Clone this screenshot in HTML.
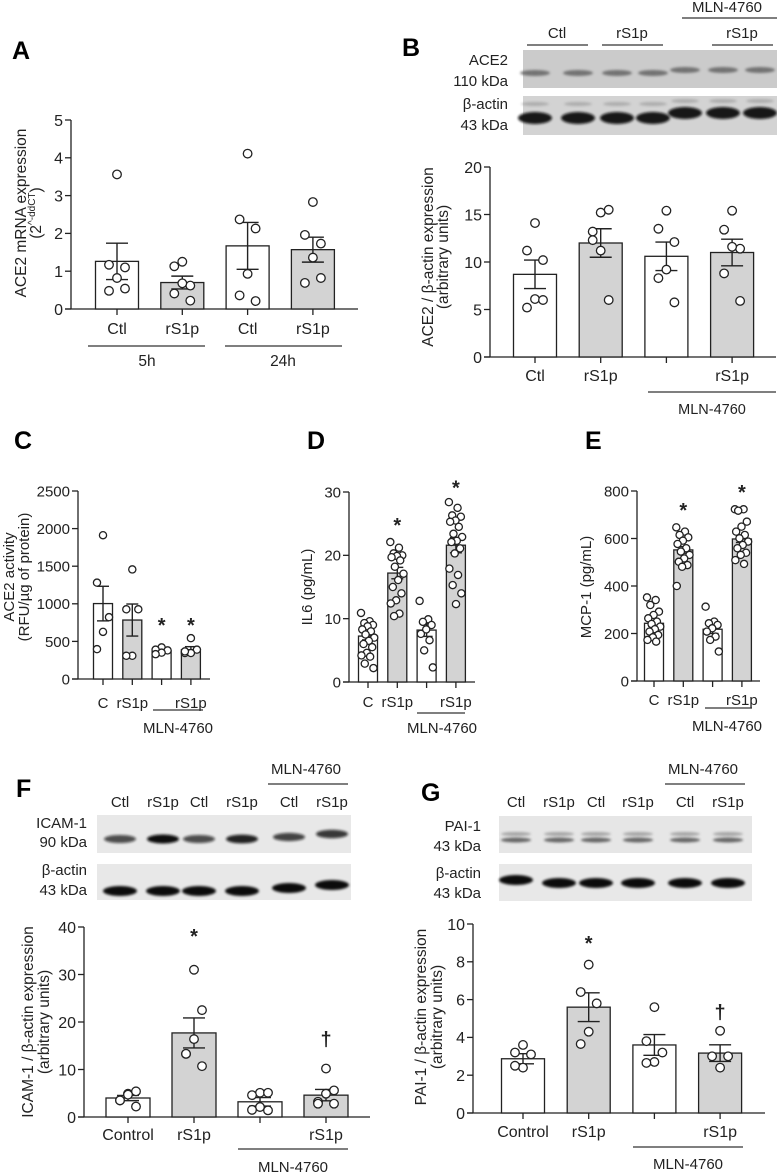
<!DOCTYPE html>
<html><head><meta charset="utf-8"><style>
html,body{margin:0;padding:0;background:#fff;}
svg{display:block;font-family:"Liberation Sans",Arial,sans-serif;}
</style></head><body>
<svg id="fig" width="777" height="1172" viewBox="0 0 777 1172" xmlns="http://www.w3.org/2000/svg">
<defs><filter id="blur" x="-20%" y="-50%" width="140%" height="200%"><feGaussianBlur stdDeviation="1.3"/></filter></defs>
<g id="static">
  <text x="12" y="59" font-size="25" font-weight="bold">A</text>
  <text x="402" y="56" font-size="25" font-weight="bold">B</text>
  <text x="14" y="449" font-size="25" font-weight="bold">C</text>
  <text x="307" y="449" font-size="25" font-weight="bold">D</text>
  <text x="585" y="449" font-size="25" font-weight="bold">E</text>
  <text x="16" y="797" font-size="25" font-weight="bold">F</text>
  <text x="421" y="801" font-size="25" font-weight="bold">G</text>
</g>
<g id="charts"></g>
</svg>
<script>
// ---------- Data: Panel A ----------
const A_cats=['Ctl','rS1p','Ctl','rS1p'];
const A_means=[1.26,0.70,1.67,1.57];
const A_sems=[0.48,0.17,0.62,0.33];
const A_pts=[[3.56,1.17,1.10,0.82,0.48,0.54],[1.25,1.13,0.62,0.68,0.41,0.22],[4.11,2.37,2.13,0.93,0.36,0.21],[2.83,1.96,1.73,1.36,0.69,0.82]];
const A_ticks=[0,1,2,3,4,5];
// ---------- Panel B ----------
const B_cats=['Ctl','rS1p','','rS1p'];
const B_means=[8.7,12.0,10.6,11.0];
const B_sems=[1.5,1.5,1.5,1.4];
const B_pts=[[14.1,11.2,10.2,6.1,5.2,6.0],[15.2,13.2,15.5,11.2,12.3,6.0],[15.4,13.5,12.1,9.2,8.3,5.75],[15.4,13.4,11.4,11.6,8.8,5.9]];
const B_ticks=[0,5,10,15,20];
// ---------- Panel C ----------
const C_cats=['C','rS1p','','rS1p'];
const C_means=[1003,784,370,390];
const C_sems=[230,213,20,40];
const C_pts=[[1912,1281,822,627,397],[1457,927,927,309,309],[420,390,380,350,330],[543,345,390,345,367]];
const C_ticks=[0,500,1000,1500,2000,2500];
const C_marks=['','','*','*'];
const C_markVals=[0,0,760,760];
// ---------- Panel D ----------
const D_cats=['C','rS1p','','rS1p'];
const D_means=[7.25,17.2,8.2,21.6];
const D_sems=[0.6,0.9,1.0,1.2];
const D_pts=[[10.9,9.6,9.3,9.0,8.8,8.3,8.0,7.5,7.0,6.5,6.0,5.5,4.6,4.2,4.0,2.9,2.2],
 [22.1,21.2,20.3,20.0,19.9,19.7,19.2,18.2,17.1,16.1,15.0,14.0,12.9,12.4,10.8,10.4],
 [12.8,9.9,9.5,9.0,8.3,7.6,6.6,5.0,2.3],
 [28.4,27.5,26.3,26.1,25.5,25.3,24.5,23.4,22.9,22.3,22.1,21.1,20.3,17.9,16.9,15.3,14.0,12.3]];
const D_ticks=[0,10,20,30];
const D_marks=['','*','','*'];
const D_markVals=[0,25.3,0,31.2];
// ---------- Panel E ----------
const E_cats=['C','rS1p','','rS1p'];
const E_means=[243,552,218,598];
const E_sems=[12,14,18,15];
const E_pts=[[352,341,320,292,278,264,250,240,229,218,208,194,184,173,166],
 [647,629,615,605,591,577,559,545,531,516,502,488,481,400],
 [313,250,243,236,222,208,187,173,124],
 [723,723,717,671,650,629,615,601,587,573,559,540,531,509,493]];
const E_ticks=[0,200,400,600,800];
const E_marks=['','*','','*'];
const E_markVals=[0,733,0,808];
// ---------- Panel F ----------
const F_cats=['Control','rS1p','','rS1p'];
const F_means=[4.0,17.7,3.2,4.6];
const F_sems=[0.55,3.15,0.9,1.2];
const F_pts=[[4.9,3.5,5.4,4.7,3.5,2.2],[31.0,13.3,22.5,16.4,13.3,10.7],[5.1,4.6,5.1,2.1,1.5,1.4],[10.2,3.2,5.6,4.9,2.8,2.8]];
const F_ticks=[0,10,20,30,40];
const F_marks=['','*','','†'];
const F_markVals=[0,38.7,0,16.2];
// ---------- Panel G ----------
const G_cats=['Control','rS1p','','rS1p'];
const G_means=[2.87,5.6,3.6,3.17];
const G_sems=[0.27,0.76,0.55,0.44];
const G_pts=[[3.6,3.2,3.1,2.4,2.5],[7.85,6.4,5.8,4.3,3.65],[5.6,3.8,3.2,2.7,2.65],[4.35,3.0,3.0,2.4]];
const G_ticks=[0,2,4,6,8,10];
const G_marks=['','*','','†'];
const G_markVals=[0,9.15,0,5.3];

const NS='http://www.w3.org/2000/svg';
const root=document.getElementById('charts');
function el(tag,attrs,parent){const e=document.createElementNS(NS,tag);for(const k in attrs)e.setAttribute(k,attrs[k]);(parent||root).appendChild(e);return e;}

function drawChart(o,cats,means,sems,pts,ticks,marks,markVals){
  const g=el('g',{});
  
  
  const ys=v=>o.y0-(v/o.max)*(o.y0-o.y1);
  const xs=i=>o.first+i*o.step;
  const ya=el('line',{x1:o.ax,y1:o.y1,x2:o.ax,y2:o.y0,stroke:'#222','stroke-width':1.3},g);
  
  
  const xa=el('line',{x1:o.ax-6,y1:o.y0,x2:o.xEnd,y2:o.y0,stroke:'#222','stroke-width':1.3},g);
  
  
  ticks.forEach(t=>{
    const y=ys(t);
    el('line',{x1:o.ax-6,y1:y,x2:o.ax,y2:y,stroke:'#222','stroke-width':1.3},g);
    const tx=el('text',{x:o.ax-8,y:y+o.fs*0.36,'font-size':o.fs,'text-anchor':'end',fill:'#222'},g);
    tx.textContent=t;
    
    
  });
  cats.forEach((c,i)=>{
    const x=xs(i);
    const m=means[i], s=sems[i];
    const bar=el('rect',{x:x-o.barW/2,y:ys(m),width:o.barW,height:o.y0-ys(m),fill:i%2?'#d3d3d3':'#fff',stroke:'#222','stroke-width':1.3},g);
    
    
    el('line',{x1:x,y1:o.y0,x2:x,y2:o.y0+6,stroke:'#222','stroke-width':1.3},g);
    const eb=el('g',{stroke:'#222','stroke-width':1.4},g);
    
    
    el('line',{x1:x,y1:ys(m+s),x2:x,y2:ys(m-s)},eb);
    el('line',{x1:x-o.cap,y1:ys(m+s),x2:x+o.cap,y2:ys(m+s)},eb);
    el('line',{x1:x-o.cap,y1:ys(m-s),x2:x+o.cap,y2:ys(m-s)},eb);
    const arr=pts[i];
    arr.forEach((v,j)=>{
      let off;
      if(arr.length<=7){const p=[0,-1,1,0,-1,1,0];off=p[j]*o.spread;}
      else{off=(((j*0.618)%1)-0.5)*2*o.spread;}
      const c2=el('circle',{cx:x+off,cy:ys(v),r:o.r,fill:'#fff',stroke:'#222','stroke-width':1.3},g);
      
      
    });
    if(c){
      const lb=el('text',{x:x,y:o.labelY,'font-size':o.fs,'text-anchor':'middle',fill:'#222'},g);
      lb.textContent=c;
      
      
    }
    if(marks&&marks[i]){
      const isStar=marks[i]==='*';
      const mk=el('text',{x:x,y:ys(markVals[i])+(isStar?10:6),'font-size':20,'font-weight':'bold','text-anchor':'middle',fill:'#222'},g);
      mk.textContent=marks[i];
      
      
    }
  });
  return g;
}

drawChart({name:'chart-a',ax:71,y0:309,y1:120,max:5,xEnd:358,first:117,step:65.3,barW:43,r:4.3,cap:11,spread:8,fs:16,labelY:334},A_cats,A_means,A_sems,A_pts,A_ticks);
drawChart({name:'chart-b',ax:490,y0:357,y1:167,max:20,xEnd:776,first:535,step:65.7,barW:43,r:4.3,cap:11,spread:8,fs:16,labelY:381},B_cats,B_means,B_sems,B_pts,B_ticks);
drawChart({name:'chart-c',ax:78,y0:679,y1:491,max:2500,xEnd:210,first:103,step:29.3,barW:19,r:3.6,cap:6,spread:6,fs:15,labelY:708},C_cats,C_means,C_sems,C_pts,C_ticks,C_marks,C_markVals);
drawChart({name:'chart-d',ax:349,y0:682,y1:492,max:30,xEnd:475,first:368,step:29.3,barW:19,r:3.6,cap:6,spread:7,fs:15,labelY:707},D_cats,D_means,D_sems,D_pts,D_ticks,D_marks,D_markVals);
drawChart({name:'chart-e',ax:637,y0:681,y1:491,max:800,xEnd:760,first:654,step:29.3,barW:19,r:3.6,cap:6,spread:7,fs:15,labelY:705},E_cats,E_means,E_sems,E_pts,E_ticks,E_marks,E_markVals);
drawChart({name:'chart-f',ax:84,y0:1117,y1:927,max:40,xEnd:370,first:128,step:66,barW:44,r:4.3,cap:11,spread:8,fs:16,labelY:1140},F_cats,F_means,F_sems,F_pts,F_ticks,F_marks,F_markVals);
drawChart({name:'chart-g',ax:473,y0:1113,y1:924,max:10,xEnd:765,first:523,step:65.7,barW:43,r:4.3,cap:11,spread:8,fs:16,labelY:1137},G_cats,G_means,G_sems,G_pts,G_ticks,G_marks,G_markVals);

function txt(x,y,s,fs,name,anchor,rot,extra){
  const t=el('text',Object.assign({x:x,y:y,'font-size':fs,'text-anchor':anchor||'middle',fill:'#222'},extra||{}));
  if(rot)t.setAttribute('transform','rotate(-90 '+x+' '+y+')');
  t.textContent=s;
  
  
  return t;
}
function ln(x1,y1,x2,y2,name){
  const l=el('line',{x1:x1,y1:y1,x2:x2,y2:y2,stroke:'#333','stroke-width':1.3});
  
  
}
// A
txt(26,213,'ACE2 mRNA expression',15.5,'y-axis-title-a','middle',true);
const sup=txt(41,213,'(2',15.5,'y-axis-subtitle-a','middle',true);
const ts=el('tspan',{'font-size':10,dy:-6},sup);ts.textContent='^-ddCT';
const ts2=el('tspan',{dy:6},sup);ts2.textContent=')';
ln(88,346,205,346,'group-line-5h');ln(225,346,342,346,'group-line-24h');
txt(147,366,'5h',15.5,'group-label-5h');txt(283,366,'24h',15.5,'group-label-24h');
// B
txt(433,257,'ACE2 / β-actin expression',15.5,'y-axis-title-b','middle',true);
txt(448,257,'(arbitrary units)',15.5,'y-axis-subtitle-b','middle',true);
ln(648,392,776,392,'group-line-mln-b');txt(712,414,'MLN-4760',14.5,'group-label-mln-b');
// C
txt(14,577,'ACE2 activity',15,'y-axis-title-c','middle',true);
txt(29,577,'(RFU/µg of protein)',15,'y-axis-subtitle-c','middle',true);
ln(153,710,203,710,'group-line-mln-c');txt(178,733,'MLN-4760',15,'group-label-mln-c');
// D
txt(312,587,'IL6 (pg/mL)',15,'y-axis-title-d','middle',true);
ln(417,713,465,713,'group-line-mln-d');txt(442,733,'MLN-4760',15,'group-label-mln-d');
// E
txt(591,587,'MCP-1 (pg/mL)',15,'y-axis-title-e','middle',true);
ln(705,708,752,708,'group-line-mln-e');txt(727,731,'MLN-4760',15,'group-label-mln-e');
// F
txt(33,1022,'ICAM-1 / β-actin expression',15.5,'y-axis-title-f','middle',true);
txt(49,1022,'(arbitrary units)',15.5,'y-axis-subtitle-f','middle',true);
ln(238,1149,348,1149,'group-line-mln-f');txt(293,1172,'MLN-4760',15,'group-label-mln-f');
// G
txt(426,1017,'PAI-1 / β-actin expression',15.5,'y-axis-title-g','middle',true);
txt(442,1017,'(arbitrary units)',15.5,'y-axis-subtitle-g','middle',true);
ln(633,1147,743,1147,'group-line-mln-g');txt(688,1169,'MLN-4760',15,'group-label-mln-g');

function blot(x,y,w,h,bg,name){
  const r=el('rect',{x:x,y:y,width:w,height:h,fill:bg});
  
  
}
function band(cx,cy,rx,ry,col,op){
  const b=el('ellipse',{cx:cx,cy:cy,rx:rx,ry:ry,fill:col,opacity:op,filter:'url(#blur)'});
  
  
}
// B blot
blot(523,50,254,38,'#cbcbcb','blot-ace2');
blot(523,96,254,39,'#d3d3d3','blot-actin-b');
[535,578,617,653,685,723,760].forEach((x,i)=>{band(x,73-(i>3?3:0),15,3,'#555',0.75);band(x,104-(i>3?3:0),14,2,'#888',0.5);band(x,118-(i>3?5:0),17,6,'#111',0.95);});
txt(508,65,'ACE2',15,'blot-label-ace2','end');
txt(508,86,'110 kDa',15,'blot-label-110kda','end');
txt(508,109,'β-actin',15,'blot-label-actin-b','end');
txt(508,130,'43 kDa',15,'blot-label-43kda-b','end');
txt(557,38,'Ctl',15,'lane-header-ctl-b');ln(527,45,588,45,'lane-line-ctl-b');
txt(632,38,'rS1p',15,'lane-header-rs1p-b');ln(602,45,663,45,'lane-line-rs1p-b');
txt(742,38,'rS1p',15,'lane-header-rs1p2-b');ln(712,45,773,45,'lane-line-rs1p2-b');
txt(727,12,'MLN-4760',15,'lane-header-mln-b');ln(682,18,777,18,'lane-line-mln-b');
// F blot
blot(97,815,254,38,'#e8e8e8','blot-icam1');
blot(97,864,254,36,'#e8e8e8','blot-actin-f');
const fLanes=[120,163,199,242,289,332];
const fInt=[0.7,1,0.7,0.9,0.75,0.8];
fLanes.forEach((x,i)=>{band(x,839-(i>3?2+(i-4)*3:0),16,3+fInt[i]*1.5,'#111',fInt[i]);band(x,891-(i>3?(i-3)*3:0),17,5,'#000',0.95);});
['Ctl','rS1p','Ctl','rS1p','Ctl','rS1p'].forEach((s,i)=>txt(fLanes[i],807,s,15,'lane-label-f'));
txt(306,774,'MLN-4760',15,'lane-header-mln-f');ln(268,784,348,784,'lane-line-mln-f');
txt(87,828,'ICAM-1',15,'blot-label-icam1','end');
txt(87,847,'90 kDa',15,'blot-label-90kda','end');
txt(87,875,'β-actin',15,'blot-label-actin-f','end');
txt(87,895,'43 kDa',15,'blot-label-43kda-f','end');
// G blot
blot(499,816,253,37,'#e6e6e6','blot-pai1');
blot(499,864,253,37,'#e8e8e8','blot-actin-g');
const gLanes=[516,559,596,638,685,728];
gLanes.forEach((x,i)=>{band(x,834,15,2,'#666',0.5);band(x,840,15,2.5,'#333',0.7);band(x,883-(i===0?3:0),17,5,'#000',0.95);});
['Ctl','rS1p','Ctl','rS1p','Ctl','rS1p'].forEach((s,i)=>txt(gLanes[i],807,s,15,'lane-label-g'));
txt(703,774,'MLN-4760',15,'lane-header-mln-g');ln(665,784,745,784,'lane-line-mln-g');
txt(481,831,'PAI-1',15,'blot-label-pai1','end');
txt(481,851,'43 kDa',15,'blot-label-43kda-g1','end');
txt(481,878,'β-actin',15,'blot-label-actin-g','end');
txt(481,898,'43 kDa',15,'blot-label-43kda-g2','end');
</script>
</body></html>
